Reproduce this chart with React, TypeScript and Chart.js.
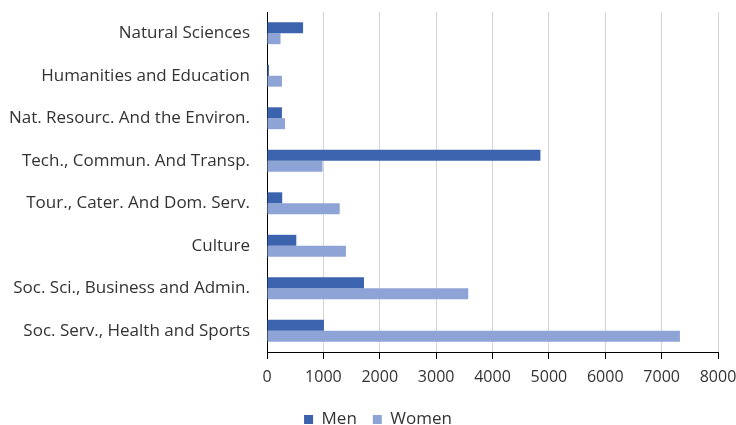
import React, { useEffect, useRef } from "react";
import { Chart, registerables } from "chart.js";

Chart.register(...registerables);

const categories = [
  "Natural Sciences",
  "Humanities and Education",
  "Nat. Resourc. And the Environ.",
  "Tech., Commun. And Transp.",
  "Tour., Cater. And Dom. Serv.",
  "Culture",
  "Soc. Sci., Business and Admin.",
  "Soc. Serv., Health and Sports",
];
const menValues = [640, 35, 265, 4850, 270, 520, 1720, 1010];
const womenValues = [240, 265, 320, 985, 1290, 1400, 3570, 7325];
const xMin = 0;
const xMax = 8000;
const xStep = 1000;

const FONT = "'Open Sans', 'DejaVu Sans', sans-serif";

const legendShift = {
  id: "legendShift",
  afterLayout(chart: any) {
    const lg = chart.legend;
    if (lg) {
      lg.left += 19;
      lg.right += 19;
    }
  },
};

export default function App() {
  const ref = useRef<HTMLCanvasElement | null>(null);

  useEffect(() => {
    if (!ref.current) return;
    const chart = new Chart(ref.current, {
      type: "bar",
      data: {
        labels: categories,
        datasets: [
          {
            label: "Men",
            data: menValues,
            backgroundColor: "#3c63ad",
            borderWidth: 0,
            categoryPercentage: 0.515,
            barPercentage: 1.0,
          },
          {
            label: "Women",
            data: womenValues,
            backgroundColor: "#8fa4d6",
            borderWidth: 0,
            categoryPercentage: 0.515,
            barPercentage: 1.0,
          },
        ],
      },
      plugins: [legendShift],
      options: {
        indexAxis: "y",
        responsive: false,
        animation: false,
        devicePixelRatio: 1,
        layout: { padding: { left: 0, right: 18, top: 12, bottom: 0 } },
        plugins: {
          tooltip: { enabled: false },
          legend: {
            position: "bottom",
            labels: {
              boxWidth: 9,
              boxHeight: 9,
              padding: 16,
              color: "#333333",
              font: { family: FONT, size: 17 },
            },
          },
        },
        scales: {
          x: {
            min: xMin,
            max: xMax,
            ticks: {
              stepSize: xStep,
              color: "#333333",
              padding: 9,
              font: { family: FONT, size: 16 },
              maxRotation: 0,
              callback: (v: any) => String(v),
            },
            grid: {
              color: "#d4d4d4",
              tickColor: "#000000",
              tickLength: 7,
              lineWidth: 1,
            },
            border: { display: true, color: "#000000", width: 1 },
            afterFit: (scale: any) => {
              scale.height = 43;
              scale.paddingLeft = 0;
              scale.paddingRight = 0;
            },
          },
          y: {
            ticks: {
              color: "#333333",
              padding: 17,
              font: { family: FONT, size: 17 },
              autoSkip: false,
            },
            grid: { display: false, drawTicks: false },
            border: { display: true, color: "#000000", width: 1 },
            afterFit: (scale: any) => {
              scale.width = 267;
              scale.paddingTop = 0;
              scale.paddingBottom = 0;
            },
          },
        },
      },
    });
    return () => chart.destroy();
  }, []);

  return (
    <div
      style={{
        position: "fixed",
        left: 0,
        top: 0,
        width: 736,
        height: 425,
        overflow: "hidden",
        background: "#ffffff",
      }}
    >
      <canvas ref={ref} width={736} height={438} style={{ display: "block" }} />
    </div>
  );
}
